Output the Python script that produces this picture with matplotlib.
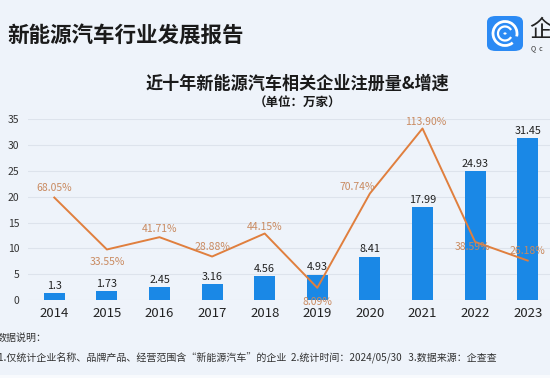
import numpy as np
import matplotlib
matplotlib.use("Agg")
import matplotlib.pyplot as plt
from matplotlib.patches import FancyBboxPatch, Circle, Arc, Rectangle

plt.rcParams['font.family'] = ['Noto Sans CJK SC', 'DejaVu Sans']

years = ['2014', '2015', '2016', '2017', '2018', '2019', '2020', '2021', '2022', '2023']
counts = [1.3, 1.73, 2.45, 3.16, 4.56, 4.93, 8.41, 17.99, 24.93, 31.45]
growth = [68.05, 33.55, 41.71, 28.88, 44.15, 8.09, 70.74, 113.90, 38.59, 26.18]
y_ticks = [0, 5, 10, 15, 20, 25, 30, 35]

# label offsets in points (dx, dy)
growth_offsets = [(0, 7), (0, -9), (0, 6), (0, 7), (0, 5), (0, -10), (-9, 5), (2, 5), (-2, -4), (0, 7)]

bar_color = '#1a88e6'
line_color = '#e07f3e'
pct_color = '#c98a60'
bg = '#eef3fa'

fig = plt.figure(figsize=(5.5, 3.78), dpi=100)
fig.patch.set_facecolor(bg)

W, H = 550, 378

# light strip at the bottom edge
fig.patches.append(Rectangle((0, 0), 1, 3 / H, transform=fig.transFigure,
                             facecolor='#f8fafd', edgecolor='none'))

ax = fig.add_axes([28 / W, 1 - 300 / H, (554 - 28) / W, (300 - 119.3) / H])
ax.set_facecolor('none')
x = np.arange(len(years))
bars = ax.bar(x, counts, width=0.4, color=bar_color, zorder=2)
for xi, v in zip(x, counts):
    ax.annotate(f'{v:g}', (xi, v), xytext=(0, 1.5), textcoords='offset points',
                ha='center', va='bottom', fontsize=7.8, color='#222222')
ax.set_xlim(-0.5, 9.5)
ax.set_ylim(0, 35)
ax.set_yticks(y_ticks)
ax.set_xticks(x)
ax.set_xticklabels(years)
ax.tick_params(axis='y', length=0, labelsize=7.5, colors='#333333', pad=6)
ax.tick_params(axis='x', length=0, labelsize=9.5, colors='#222222', pad=5)
ax.grid(axis='y', color='#dde3ec', linewidth=0.8, zorder=0)
for s in ax.spines.values():
    s.set_visible(False)

ax2 = ax.twinx()
ax2.set_ylim(0, 120)
ax2.plot(x, growth, color=line_color, linewidth=1.4, zorder=3)
for xi, v, (dx, dy) in zip(x, growth, growth_offsets):
    ax2.annotate(f'{v:.2f}%', (xi, v), xytext=(dx, dy), textcoords='offset points',
                 ha='center', va='center', fontsize=7.5, color=pct_color)
ax2.axis('off')

# header
fig.text(7 / W, 1 - 35 / H, '新能源汽车行业发展报告', fontsize=15.5, fontweight='bold',
         color='#1a1a1a', va='center', ha='left')
fig.text(297 / W, 1 - 84 / H, '近十年新能源汽车相关企业注册量&增速', fontsize=12.3,
         fontweight='bold', color='#1a1a1a', va='center', ha='center')
fig.text(297 / W, 1 - 103 / H, '（单位：万家）', fontsize=9, fontweight='bold',
         color='#1a1a1a', va='center', ha='center')

# logo
logo = FancyBboxPatch((487 / W, 1 - 51 / H), 36 / W, 35 / H,
                      boxstyle='round,pad=0,rounding_size=0.016',
                      transform=fig.transFigure, facecolor='#2b8af4', edgecolor='none')
fig.patches.append(logo)
cx, cy = 505 / W, 1 - 33.5 / H
fig.patches.append(Arc((cx, cy), 24 / W, 24 / H, theta1=-20, theta2=300, transform=fig.transFigure,
                       color='white', linewidth=2))
fig.patches.append(Arc((cx, cy), 14 / W, 14 / H, theta1=40, theta2=320, transform=fig.transFigure,
                       color='white', linewidth=1.6))
fig.patches.append(Circle((cx, cy), 1.6 / W, transform=fig.transFigure,
                          facecolor='white', edgecolor='none'))
fig.text(529 / W, 1 - 31 / H, '企', fontsize=17, color='#222222', ha='left', va='center')
fig.text(531 / W, 1 - 48 / H, 'Q  c', fontsize=5, color='#333333', ha='left', va='center')

# footer
fig.text(-3 / W, 1 - 338 / H, '数据说明：', fontsize=7.2, color='#333333', va='center', ha='left')
fig.text(-2 / W, 1 - 358 / H,
         '1.仅统计企业名称、品牌产品、经营范围含“新能源汽车”的企业  2.统计时间：2024/05/30   3.数据来源：企查查',
         fontsize=7.2, color='#333333', va='center', ha='left')

fig.savefig('out.png', dpi=100, facecolor=fig.get_facecolor())
